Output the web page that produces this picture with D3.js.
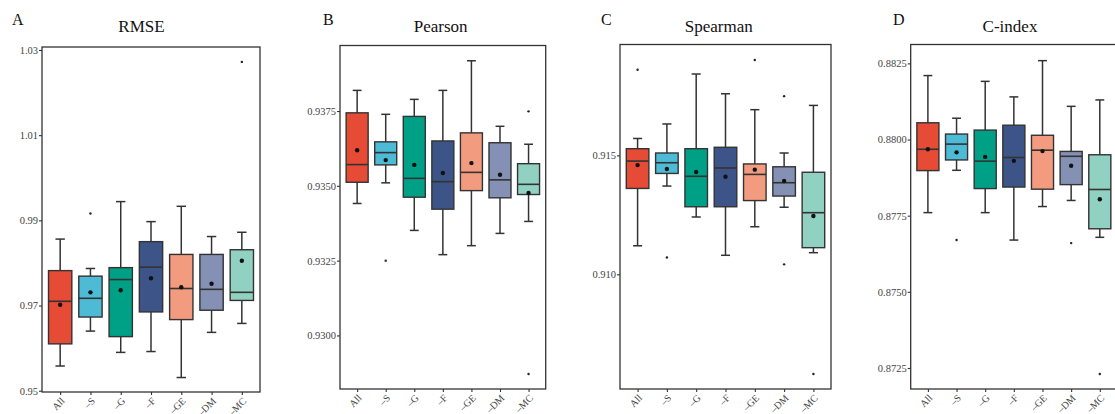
<!DOCTYPE html>
<html>
<head>
<meta charset="utf-8">
<script src="https://cdn.jsdelivr.net/npm/d3@7"></script>
<style>
  html, body { margin: 0; padding: 0; background: #fff; }
  svg { display: block; }
  text { font-family: "Liberation Serif", "DejaVu Serif", serif; }
</style>
</head>
<body>
<svg id="chart" width="1115" height="414"></svg>
<script>
// ---------- data ----------
const groups = ["All", "–S", "–G", "–F", "–GE", "–DM", "–MC"];
const groupColors = ["#E64B35", "#4DBBD5", "#00A087", "#3C5488", "#F39B7F", "#8491B4", "#91D1C2"];

// [lower whisker, Q1, median, Q3, upper whisker]
const rmseStats = [
  [0.9558, 0.9610, 0.9710, 0.9782, 0.9856],
  [0.9640, 0.9673, 0.9717, 0.9769, 0.9787],
  [0.9590, 0.9627, 0.9761, 0.9789, 0.9944],
  [0.9592, 0.9685, 0.9790, 0.9850, 0.9897],
  [0.9531, 0.9667, 0.9740, 0.9820, 0.9933],
  [0.9637, 0.9689, 0.9738, 0.9820, 0.9862],
  [0.9658, 0.9712, 0.9731, 0.9831, 0.9872]
];
const rmseMeans = [0.9702, 0.9731, 0.9736, 0.9764, 0.9743, 0.9751, 0.9805];
const rmseOutliers = [[], [0.9916], [], [], [], [], [1.0272]];
const rmseTicks = [0.95, 0.97, 0.99, 1.01, 1.03];

const pearsonStats = [
  [0.93441, 0.93512, 0.93571, 0.93744, 0.93819],
  [0.93510, 0.93570, 0.93611, 0.93647, 0.93739],
  [0.93351, 0.93462, 0.93525, 0.93732, 0.93789],
  [0.93270, 0.93422, 0.93514, 0.93650, 0.93819],
  [0.93300, 0.93484, 0.93545, 0.93677, 0.93918],
  [0.93341, 0.93460, 0.93520, 0.93644, 0.93699],
  [0.93381, 0.93471, 0.93505, 0.93574, 0.93639]
];
const pearsonMeans = [0.93619, 0.93586, 0.93570, 0.93543, 0.93576, 0.93537, 0.93476];
const pearsonOutliers = [[], [0.93250], [], [], [], [], [0.93749, 0.92871]];
const pearsonTicks = [0.9300, 0.9325, 0.9350, 0.9375];

const spearmanStats = [
  [0.91120, 0.91361, 0.91476, 0.91528, 0.91571],
  [0.91371, 0.91424, 0.91469, 0.91510, 0.91632],
  [0.91241, 0.91284, 0.91412, 0.91528, 0.91842],
  [0.91080, 0.91284, 0.91447, 0.91534, 0.91759],
  [0.91200, 0.91310, 0.91420, 0.91464, 0.91692],
  [0.91282, 0.91329, 0.91385, 0.91452, 0.91510],
  [0.91091, 0.91112, 0.91259, 0.91429, 0.91710]
];
const spearmanMeans = [0.91459, 0.91443, 0.91430, 0.91410, 0.91440, 0.91392, 0.91245];
const spearmanOutliers = [[0.91860], [0.91071], [], [], [0.91901], [0.91749, 0.91042], [0.90581]];
const spearmanTicks = [0.910, 0.915];

const cindexStats = [
  [0.87760, 0.87898, 0.87968, 0.88055, 0.88210],
  [0.87899, 0.87933, 0.87985, 0.88018, 0.88070],
  [0.87760, 0.87839, 0.87929, 0.88031, 0.88191],
  [0.87670, 0.87844, 0.87941, 0.88047, 0.88140],
  [0.87780, 0.87837, 0.87965, 0.88014, 0.88259],
  [0.87800, 0.87852, 0.87945, 0.87961, 0.88109],
  [0.87679, 0.87707, 0.87836, 0.87950, 0.88130]
];
const cindexMeans = [0.87968, 0.87958, 0.87943, 0.87930, 0.87962, 0.87914, 0.87804];
const cindexOutliers = [[], [0.8767], [], [], [], [0.8766], [0.8723]];
const cindexTicks = [0.8725, 0.8750, 0.8775, 0.8800, 0.8825];

// ---------- layout ----------
const panels = [
  { letter: "A", title: "RMSE", stats: rmseStats, means: rmseMeans, outliers: rmseOutliers, ticks: rmseTicks, fmt: ".2f",
    domain: [0.9497, 1.0307], box: [42, 260, 47, 392], letterX: 12, titleX: 141.5 },
  { letter: "B", title: "Pearson", stats: pearsonStats, means: pearsonMeans, outliers: pearsonOutliers, ticks: pearsonTicks, fmt: ".4f",
    domain: [0.92821, 0.93969], box: [340, 545.7, 45.5, 389], letterX: 323, titleX: 440.7 },
  { letter: "C", title: "Spearman", stats: spearmanStats, means: spearmanMeans, outliers: spearmanOutliers, ticks: spearmanTicks, fmt: ".3f",
    domain: [0.90518, 0.91966], box: [620, 831, 44.5, 389], letterX: 601, titleX: 718.7 },
  { letter: "D", title: "C-index", stats: cindexStats, means: cindexMeans, outliers: cindexOutliers, ticks: cindexTicks, fmt: ".4f",
    domain: [0.87181, 0.88312], box: [910.7, 1117, 44.5, 389], letterX: 893, titleX: 1010 }
];

const svg = d3.select("#chart");
const ink = "#333333";

panels.forEach(p => {
  const [x0, x1, y0, y1] = p.box;
  const g = svg.append("g");
  const x = d3.scalePoint().domain(groups).range([x0, x1]).padding(0.6);
  const y = d3.scaleLinear().domain(p.domain).range([y1, y0]);
  const step = x.step();
  const bw = step * 0.77;
  const cw = step * 0.31;

  // letter and title
  svg.append("text").attr("x", p.letterX).attr("y", 25).attr("font-size", 16).attr("fill", "#111").text(p.letter);
  svg.append("text").attr("x", p.titleX).attr("y", 32).attr("text-anchor", "middle").attr("font-size", 17).attr("fill", "#111").text(p.title);

  // boxes
  groups.forEach((name, i) => {
    const s = p.stats[i];
    const cx = x(name);
    const bg = g.append("g");
    bg.append("line").attr("x1", cx).attr("x2", cx).attr("y1", y(s[0])).attr("y2", y(s[4]))
      .attr("stroke", ink).attr("stroke-width", 1.5);
    [s[0], s[4]].forEach(v => {
      bg.append("line").attr("x1", cx - cw / 2).attr("x2", cx + cw / 2).attr("y1", y(v)).attr("y2", y(v))
        .attr("stroke", ink).attr("stroke-width", 1.5);
    });
    bg.append("rect").attr("x", cx - bw / 2).attr("width", bw)
      .attr("y", y(s[3])).attr("height", y(s[1]) - y(s[3]))
      .attr("fill", groupColors[i]).attr("stroke", ink).attr("stroke-width", 1.4);
    bg.append("line").attr("x1", cx - bw / 2).attr("x2", cx + bw / 2).attr("y1", y(s[2])).attr("y2", y(s[2]))
      .attr("stroke", ink).attr("stroke-width", 1.6);
    bg.append("circle").attr("cx", cx).attr("cy", y(p.means[i])).attr("r", 2.2).attr("fill", "#111");
    p.outliers[i].forEach(v => {
      bg.append("circle").attr("cx", cx).attr("cy", y(v)).attr("r", 1.2).attr("fill", "#222");
    });
  });

  // frame
  g.append("rect").attr("x", x0).attr("y", y0).attr("width", x1 - x0).attr("height", y1 - y0)
    .attr("fill", "none").attr("stroke", ink).attr("stroke-width", 1.3);

  // y axis
  const ya = g.append("g").attr("transform", `translate(${x0},0)`)
    .call(d3.axisLeft(y).tickValues(p.ticks).tickFormat(d3.format(p.fmt)).tickSize(3).tickPadding(1));
  ya.select(".domain").remove();
  ya.selectAll("line").attr("stroke", ink).attr("stroke-width", 1.1);
  ya.selectAll("text").attr("font-family", "Liberation Serif").attr("font-size", 10.5).attr("fill", "#444");

  // x axis
  const xa = g.append("g").attr("transform", `translate(0,${y1})`)
    .call(d3.axisBottom(x).tickSize(3).tickPadding(2));
  xa.select(".domain").remove();
  xa.selectAll("line").attr("stroke", ink).attr("stroke-width", 1.1);
  xa.selectAll("text")
    .attr("font-family", "Liberation Serif").attr("font-size", 10).attr("fill", "#444")
    .attr("text-anchor", "end").attr("dy", null)
    .attr("transform", "translate(3,8) rotate(-45)")
    .attr("y", 0).attr("x", 0).attr("dominant-baseline", "middle");
});
</script>
</body>
</html>
